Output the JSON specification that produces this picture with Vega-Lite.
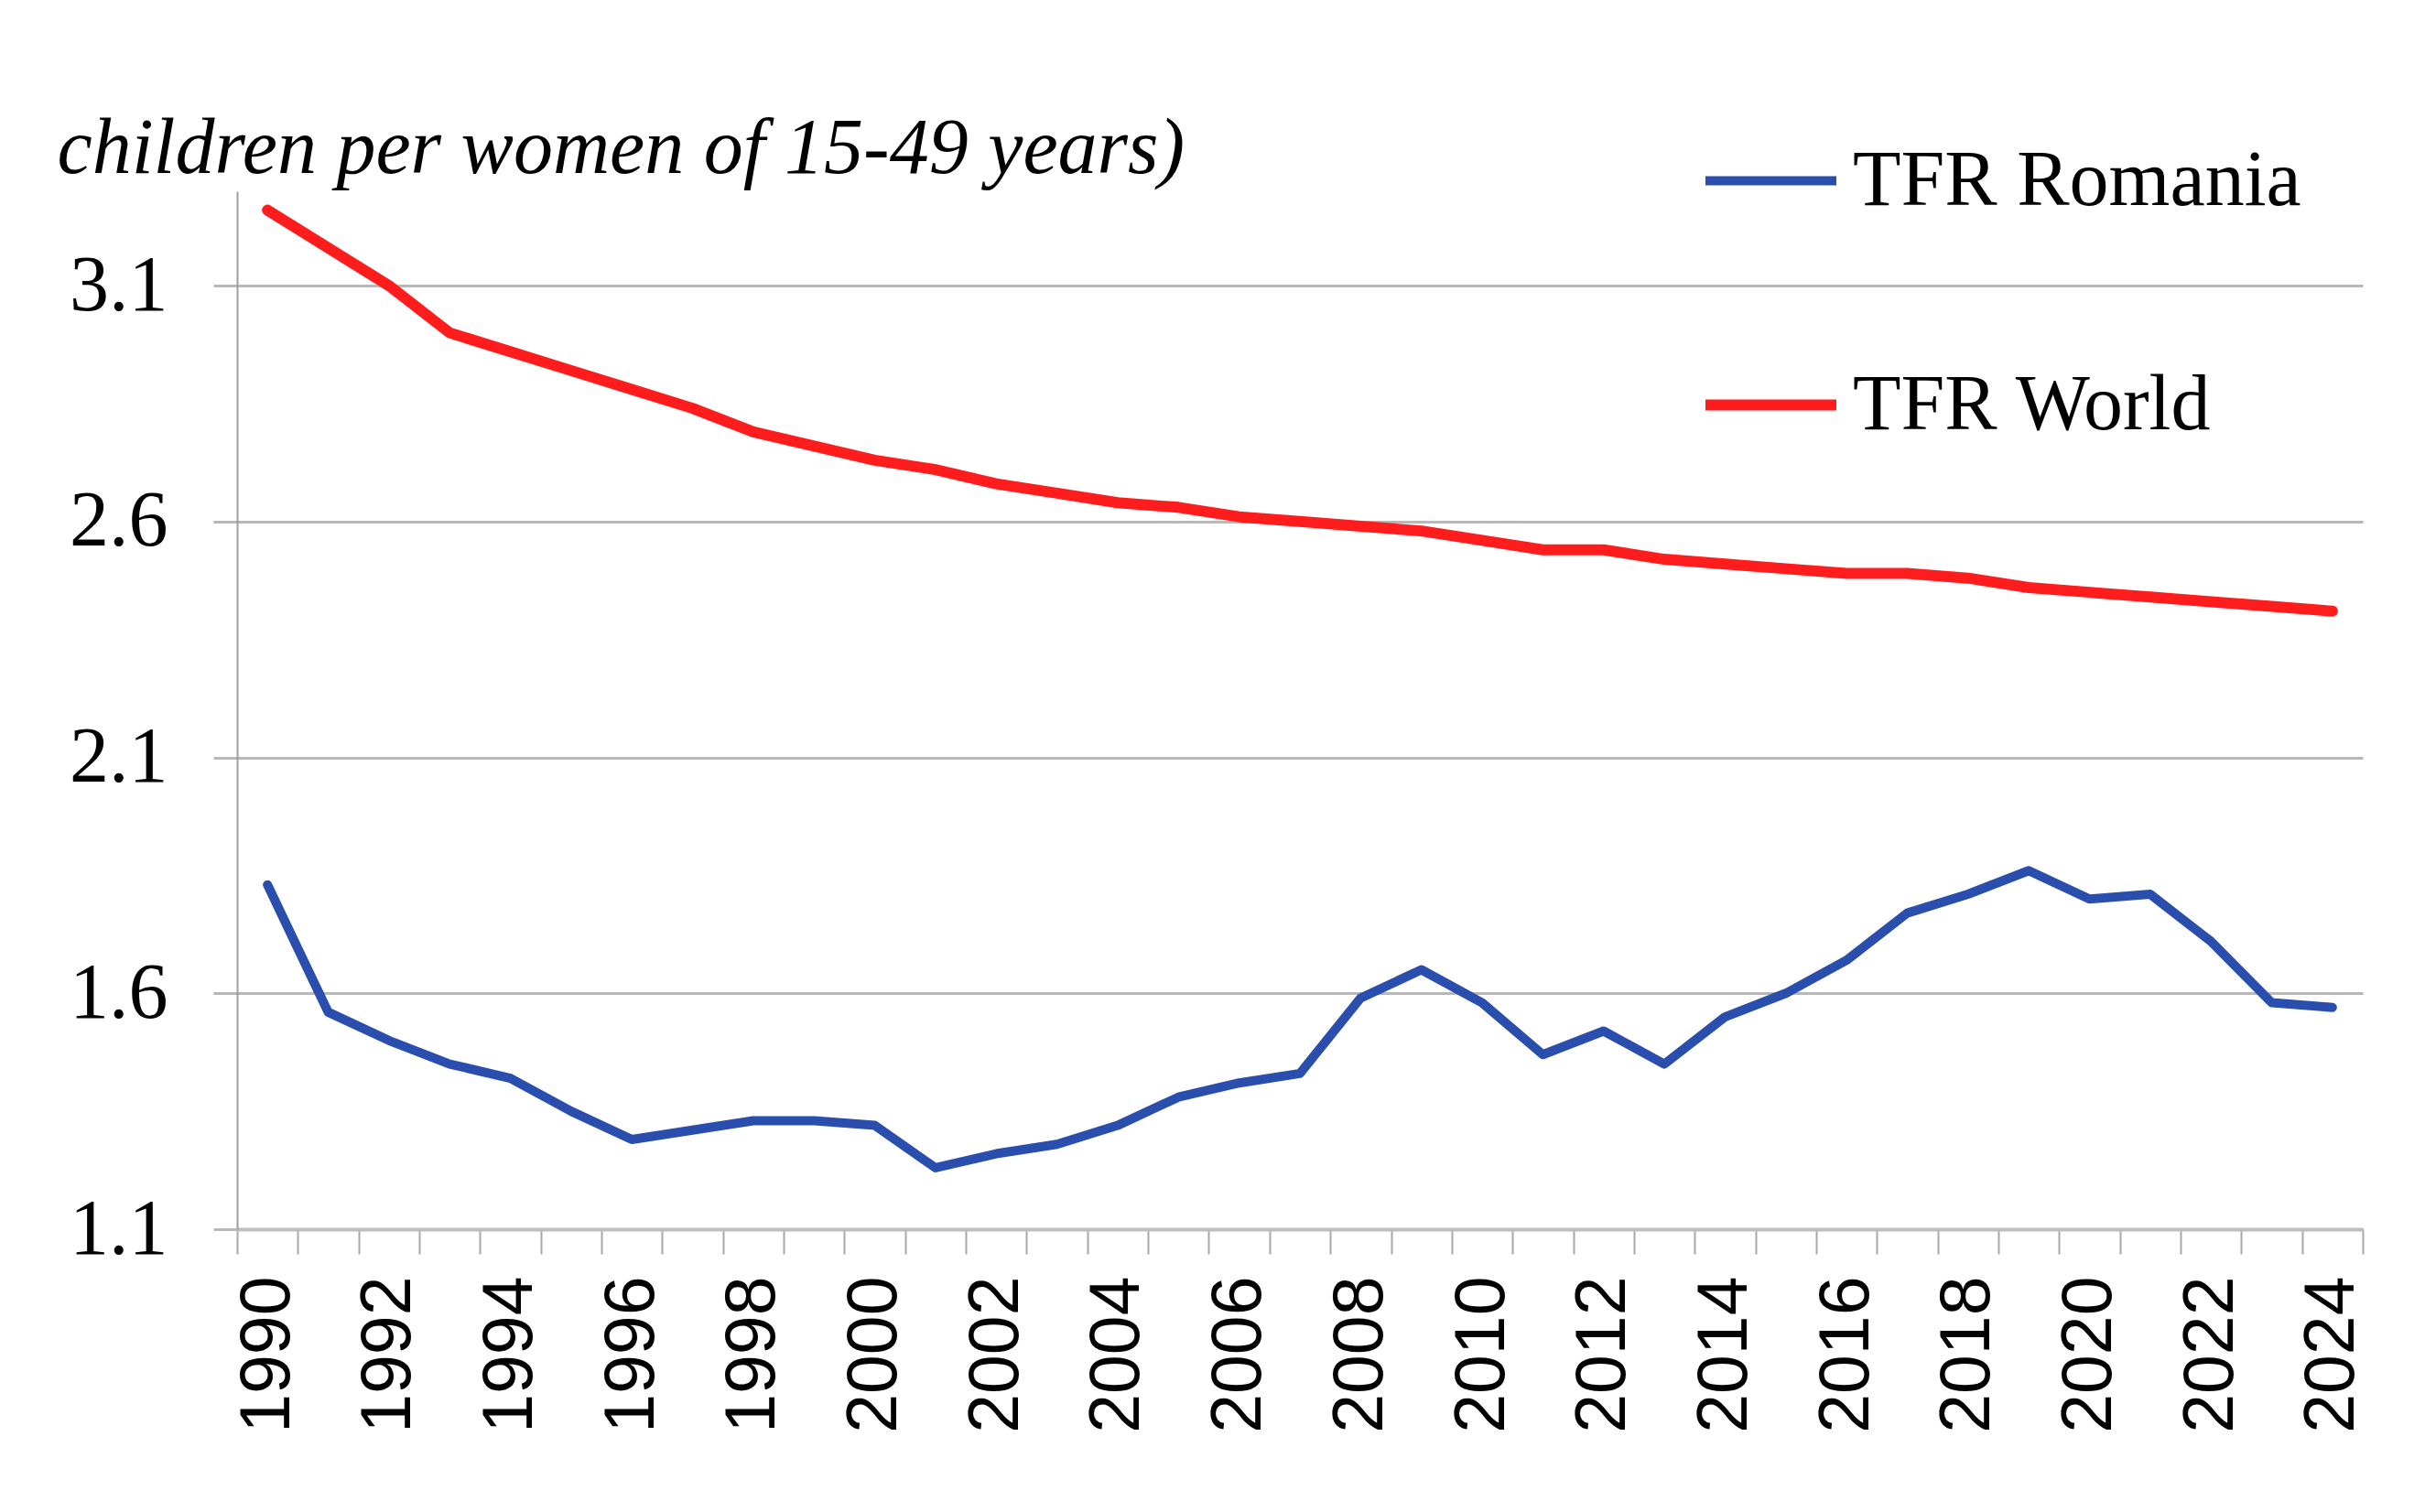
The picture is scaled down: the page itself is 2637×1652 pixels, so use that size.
{
  "$schema": "https://vega.github.io/schema/vega-lite/v6.json",
  "width": 2322,
  "height": 1134,
  "autosize": {"type": "none"},
  "padding": {"left": 259, "top": 209, "right": 56, "bottom": 309},
  "background": "white",
  "config": {
    "font": "Liberation Serif",
    "view": {"stroke": null}
  },
  "data": {
    "values": [
      {"year": "1990", "series": "TFR Romania", "value": 1.83},
      {"year": "1991", "series": "TFR Romania", "value": 1.56},
      {"year": "1992", "series": "TFR Romania", "value": 1.50},
      {"year": "1993", "series": "TFR Romania", "value": 1.45},
      {"year": "1994", "series": "TFR Romania", "value": 1.42},
      {"year": "1995", "series": "TFR Romania", "value": 1.35},
      {"year": "1996", "series": "TFR Romania", "value": 1.29},
      {"year": "1997", "series": "TFR Romania", "value": 1.31},
      {"year": "1998", "series": "TFR Romania", "value": 1.33},
      {"year": "1999", "series": "TFR Romania", "value": 1.33},
      {"year": "2000", "series": "TFR Romania", "value": 1.32},
      {"year": "2001", "series": "TFR Romania", "value": 1.23},
      {"year": "2002", "series": "TFR Romania", "value": 1.26},
      {"year": "2003", "series": "TFR Romania", "value": 1.28},
      {"year": "2004", "series": "TFR Romania", "value": 1.32},
      {"year": "2005", "series": "TFR Romania", "value": 1.38},
      {"year": "2006", "series": "TFR Romania", "value": 1.41},
      {"year": "2007", "series": "TFR Romania", "value": 1.43},
      {"year": "2008", "series": "TFR Romania", "value": 1.59},
      {"year": "2009", "series": "TFR Romania", "value": 1.65},
      {"year": "2010", "series": "TFR Romania", "value": 1.58},
      {"year": "2011", "series": "TFR Romania", "value": 1.47},
      {"year": "2012", "series": "TFR Romania", "value": 1.52},
      {"year": "2013", "series": "TFR Romania", "value": 1.45},
      {"year": "2014", "series": "TFR Romania", "value": 1.55},
      {"year": "2015", "series": "TFR Romania", "value": 1.60},
      {"year": "2016", "series": "TFR Romania", "value": 1.67},
      {"year": "2017", "series": "TFR Romania", "value": 1.77},
      {"year": "2018", "series": "TFR Romania", "value": 1.81},
      {"year": "2019", "series": "TFR Romania", "value": 1.86},
      {"year": "2020", "series": "TFR Romania", "value": 1.80},
      {"year": "2021", "series": "TFR Romania", "value": 1.81},
      {"year": "2022", "series": "TFR Romania", "value": 1.71},
      {"year": "2023", "series": "TFR Romania", "value": 1.58},
      {"year": "2024", "series": "TFR Romania", "value": 1.57},
      {"year": "1990", "series": "TFR World", "value": 3.26},
      {"year": "1991", "series": "TFR World", "value": 3.18},
      {"year": "1992", "series": "TFR World", "value": 3.10},
      {"year": "1993", "series": "TFR World", "value": 3.00},
      {"year": "1994", "series": "TFR World", "value": 2.96},
      {"year": "1995", "series": "TFR World", "value": 2.92},
      {"year": "1996", "series": "TFR World", "value": 2.88},
      {"year": "1997", "series": "TFR World", "value": 2.84},
      {"year": "1998", "series": "TFR World", "value": 2.79},
      {"year": "1999", "series": "TFR World", "value": 2.76},
      {"year": "2000", "series": "TFR World", "value": 2.73},
      {"year": "2001", "series": "TFR World", "value": 2.71},
      {"year": "2002", "series": "TFR World", "value": 2.68},
      {"year": "2003", "series": "TFR World", "value": 2.66},
      {"year": "2004", "series": "TFR World", "value": 2.64},
      {"year": "2005", "series": "TFR World", "value": 2.63},
      {"year": "2006", "series": "TFR World", "value": 2.61},
      {"year": "2007", "series": "TFR World", "value": 2.60},
      {"year": "2008", "series": "TFR World", "value": 2.59},
      {"year": "2009", "series": "TFR World", "value": 2.58},
      {"year": "2010", "series": "TFR World", "value": 2.56},
      {"year": "2011", "series": "TFR World", "value": 2.54},
      {"year": "2012", "series": "TFR World", "value": 2.54},
      {"year": "2013", "series": "TFR World", "value": 2.52},
      {"year": "2014", "series": "TFR World", "value": 2.51},
      {"year": "2015", "series": "TFR World", "value": 2.50},
      {"year": "2016", "series": "TFR World", "value": 2.49},
      {"year": "2017", "series": "TFR World", "value": 2.49},
      {"year": "2018", "series": "TFR World", "value": 2.48},
      {"year": "2019", "series": "TFR World", "value": 2.46},
      {"year": "2020", "series": "TFR World", "value": 2.45},
      {"year": "2021", "series": "TFR World", "value": 2.44},
      {"year": "2022", "series": "TFR World", "value": 2.43},
      {"year": "2023", "series": "TFR World", "value": 2.42},
      {"year": "2024", "series": "TFR World", "value": 2.41}
    ]
  },
  "mark": {"type": "line", "strokeCap": "round", "strokeJoin": "round"},
  "encoding": {
    "x": {
      "field": "year",
      "type": "ordinal",
      "bandPosition": 0.5,
      "scale": {"type": "band", "paddingInner": 0, "paddingOuter": 0},
      "axis": {
        "title": null,
        "labelAngle": -90,
        "labelFont": "Liberation Sans",
        "labelFontSize": 77,
        "labelColor": "black",
        "labelPadding": 24,
        "labelExpr": "parseInt(datum.value) % 2 == 0 ? datum.label : ''",
        "labelOverlap": false,
        "tickBand": "extent",
        "tickSize": 27,
        "tickColor": "#A8A8A8",
        "tickWidth": 2,
        "domainColor": "#BDBDBD",
        "domainWidth": 4,
        "grid": false
      }
    },
    "y": {
      "field": "value",
      "type": "quantitative",
      "scale": {"domain": [1.1, 3.3], "nice": false, "zero": false},
      "axis": {
        "values": [1.1, 1.6, 2.1, 2.6, 3.1],
        "format": ".1f",
        "labelFont": "Liberation Serif",
        "labelFontSize": 86,
        "labelColor": "black",
        "labelPadding": 50,
        "tickSize": 26,
        "tickColor": "#B8B8B8",
        "tickWidth": 3,
        "grid": true,
        "gridColor": "#B8B8B8",
        "gridWidth": 3,
        "domainColor": "#9E9E9E",
        "domainWidth": 2,
        "title": "children per women of 15-49 years)",
        "titleAngle": 0,
        "titleAlign": "left",
        "titleBaseline": "alphabetic",
        "titleX": -197,
        "titleY": -21,
        "titleFont": "Liberation Serif",
        "titleFontSize": 86,
        "titleFontStyle": "italic",
        "titleFontWeight": "normal",
        "titleColor": "black"
      }
    },
    "strokeWidth": {
      "field": "series",
      "type": "nominal",
      "scale": {"domain": ["TFR Romania", "TFR World"], "range": [10, 12]},
      "legend": null
    },
    "color": {
      "field": "series",
      "type": "nominal",
      "scale": {"domain": ["TFR Romania", "TFR World"], "range": ["#2A4EAD", "#FF1C1C"]},
      "legend": {
        "title": null,
        "orient": "none",
        "legendX": 1598,
        "legendY": -88,
        "direction": "vertical",
        "padding": 0,
        "rowPadding": 124,
        "symbolType": "stroke",
        "symbolSize": 20449,
        "symbolStrokeWidth": 12,
        "labelFont": "Liberation Serif",
        "labelFontSize": 86,
        "labelColor": "black",
        "labelOffset": 12,
        "labelLimit": 1000
      }
    }
  }
}
